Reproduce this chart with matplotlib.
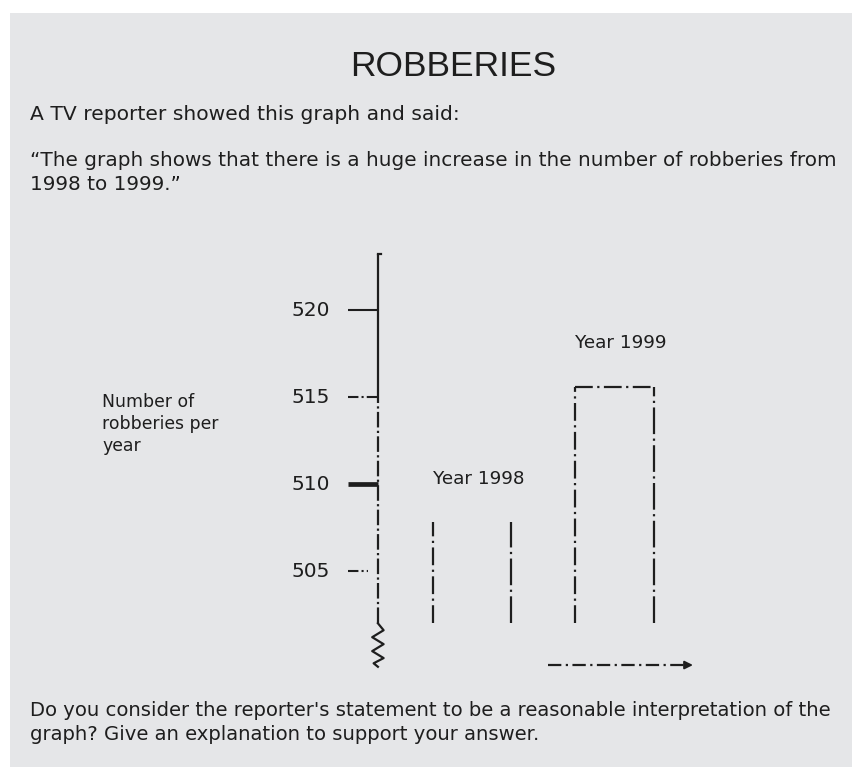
import matplotlib.pyplot as plt
from matplotlib.patches import Rectangle

# data
years = ['1998', '1999']
robberies = [507.8, 515.6]
yticks = [505, 510, 515, 520]
bar_base = 502.0

title = 'ROBBERIES'
intro = 'A TV reporter showed this graph and said:'
quote = ['\u201cThe graph shows that there is a huge increase in the number of robberies from',
         '1998 to 1999.\u201d']
ylabel = ['Number of', 'robberies per', 'year']
question = ["Do you consider the reporter's statement to be a reasonable interpretation of the",
            'graph? Give an explanation to support your answer.']

W, H = 852, 771
ink = '#1e1e1e'
bg = '#e5e6e8'


def px(x, y):
    return x / W, 1 - y / H


plt.rcParams['font.family'] = ['DejaVu Sans']

fig = plt.figure(figsize=(W / 100, H / 100), dpi=100)
fig.patch.set_facecolor('white')
fig.patches.append(Rectangle(px(10, 767), (W - 10) / W, 754 / H, transform=fig.transFigure,
                             facecolor=bg, edgecolor='none', zorder=-10))

fig.text(*px(453, 66), title, ha='center', va='center', fontsize=25.5, color=ink,
         family='Liberation Sans')
fig.text(*px(30, 114), intro, ha='left', va='center', fontsize=14.6, color=ink)
for i, line in enumerate(quote):
    fig.text(*px(30, 160 + i * 24), line, ha='left', va='center', fontsize=14.4, color=ink)
for i, line in enumerate(ylabel):
    fig.text(*px(102, 402 + i * 22), line, ha='left', va='center', fontsize=12.4, color=ink)
for i, line in enumerate(question):
    fig.text(*px(30, 710 + i * 25), line, ha='left', va='center', fontsize=14.1, color=ink)

# chart axes
ax = fig.add_axes([340 / W, 1 - 672 / H, 360 / W, 422 / H])
ax.set_facecolor('none')
ax.set_xlim(-0.926, 1.6)
ax.set_ylim(499.2, 523.45)
for s in ax.spines.values():
    s.set_visible(False)
ax.set_xticks([])
ax.set_yticks([])

ax_x = -0.66
ax.plot([ax_x, ax_x], [515, 523.2], color=ink, lw=1.6, solid_capstyle='butt')
ax.plot([ax_x, ax_x], [bar_base, 515], color=ink, lw=1.6, ls=(0, (7, 1.5, 1, 1.5)))
ax.plot([ax_x, ax_x + 0.02], [523.2, 523.2], color=ink, lw=1.6)
# break in the axis
zx = [ax_x, ax_x + 0.04, ax_x - 0.04, ax_x + 0.04, ax_x - 0.04, ax_x + 0.04, ax_x - 0.03, ax_x]
zy = [bar_base, 501.6, 501.2, 500.8, 500.4, 500.0, 499.7, 499.5]
ax.plot(zx, zy, color=ink, lw=1.6)

for v in yticks:
    lw = 3.4 if v == 510 else 1.5
    x_end = ax_x - 0.07 if v == 505 else ax_x
    ax.plot([ax_x - 0.21, x_end], [v, v], color=ink, lw=lw, solid_capstyle='butt',
            ls='-' if v in (520, 510) else (0, (5, 1.5, 1, 1.5)))
    ax.text(ax_x - 0.335, v, str(v), ha='right', va='center', fontsize=14.5, color=ink)

# bars (open, no base line)
half = 0.275
for i, (yr, v) in enumerate(zip(years, robberies)):
    ax.plot([i - half, i - half], [bar_base, v], color=ink, lw=1.6, ls=(0, (8, 2, 1, 2)))
    ax.plot([i + half, i + half], [bar_base, v], color=ink, lw=1.6, ls=(0, (12, 2, 1, 2)))
    if i == 1:
        ax.plot([i - half, i + half], [v, v], color=ink, lw=1.6, ls=(0, (8, 2, 1, 2)))
    ax.text(i - half, v + 2.5, 'Year ' + yr, ha='left', va='center', fontsize=13.2, color=ink)

# x axis
ax.plot([0.53, 1.54], [499.6, 499.6], color=ink, lw=1.6, ls=(0, (6, 2, 1, 2)))
ax.annotate('', xy=(1.57, 499.6), xytext=(1.5, 499.6),
            arrowprops=dict(arrowstyle='-|>', color=ink, lw=1.4, mutation_scale=12))

fig.savefig('out.png', dpi=100, facecolor=fig.get_facecolor())
